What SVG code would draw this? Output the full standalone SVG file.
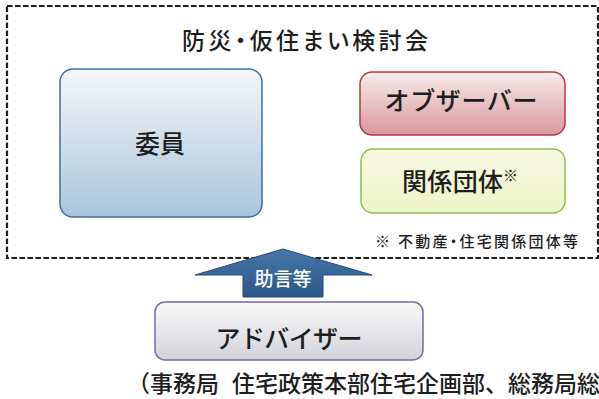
<svg xmlns="http://www.w3.org/2000/svg" width="599" height="399" viewBox="0 0 599 399">
<defs>
<style>
text{font-family:"Noto Sans CJK JP","Noto Sans",sans-serif;fill:#1e1e1e;font-weight:500;}
.lbl{font-size:25px;text-anchor:middle;}
.palt{font-feature-settings:"palt";}
.frame{fill:none;stroke:#1e1e1e;stroke-width:2.2;stroke-dasharray:5.5 2.5;}
</style>
<linearGradient id="gBlue" x1="0" y1="0" x2="0" y2="1">
<stop offset="0" stop-color="#f4f6f9"/><stop offset="1" stop-color="#a8c4dd"/>
</linearGradient>
<linearGradient id="gRed" x1="0" y1="0" x2="0" y2="1">
<stop offset="0" stop-color="#f8ecec"/><stop offset="1" stop-color="#d9979c"/>
</linearGradient>
<linearGradient id="gGreen" x1="0" y1="0" x2="0" y2="1">
<stop offset="0" stop-color="#f7f9e2"/><stop offset="1" stop-color="#eef4c8"/>
</linearGradient>
<linearGradient id="gGray" x1="0" y1="0" x2="0" y2="1">
<stop offset="0" stop-color="#fafafa"/><stop offset="1" stop-color="#d2d2da"/>
</linearGradient>
<linearGradient id="gArrow" x1="0" y1="0" x2="0" y2="1">
<stop offset="0" stop-color="#4777a8"/><stop offset="1" stop-color="#2b5787"/>
</linearGradient>
</defs>
<rect width="599" height="399" fill="#ffffff"/>

<g id="frame">
<rect class="frame" x="7" y="6" width="591" height="252"/>
<text class="palt" x="305" y="49" font-size="23" text-anchor="middle" textLength="246" lengthAdjust="spacing">防災・仮住まい検討会</text>
</g>

<g id="iin">
<rect x="60" y="69" width="202" height="148" rx="13" fill="url(#gBlue)" stroke="#3d6fa3" stroke-width="1.5"/>
<text class="lbl" x="160" y="153" font-size="24">委員</text>
</g>

<g id="observer">
<rect x="360" y="72" width="205" height="63" rx="12" fill="url(#gRed)" stroke="#b83444" stroke-width="1.5"/>
<text class="lbl" x="461" y="110" textLength="153" lengthAdjust="spacing">オブザーバー</text>
</g>

<g id="kankei">
<rect x="361" y="149" width="204" height="64" rx="12" fill="url(#gGreen)" stroke="#8cc04c" stroke-width="1.5"/>
<text x="402" y="191" font-size="25" textLength="101" lengthAdjust="spacing">関係団体</text>
<text x="503" y="181" font-size="15">※</text>
</g>

<g id="note">
<text class="palt" x="375" y="247" font-size="15" textLength="203" lengthAdjust="spacing">※ 不動産・住宅関係団体等</text>
</g>

<g id="connectors">
<polygon points="283,249 372,275 323,275 323,297 243,297 243,275 195,275" fill="url(#gArrow)" stroke="#234b78" stroke-width="1"/>
<text x="283" y="286" font-size="19" text-anchor="middle" style="fill:#ffffff">助言等</text>
</g>

<g id="adviser">
<rect x="155" y="302" width="268" height="58" rx="10" fill="url(#gGray)" stroke="#7a68a8" stroke-width="1.5"/>
<text class="lbl" x="289" y="348" textLength="147" lengthAdjust="spacing">アドバイザー</text>
</g>

<g id="secretariat">
<text x="127" y="392" font-size="23">（事務局</text>
<text x="232" y="392" font-size="23">住宅政策本部住宅企画部、総務局総</text>
</g>
</svg>
